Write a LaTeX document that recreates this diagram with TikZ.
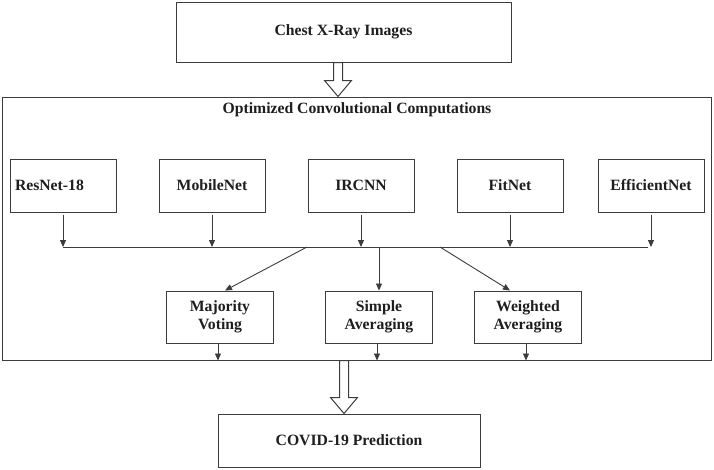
\documentclass[tikz,border=0pt]{standalone}
\usepackage{fontspec}
\setmainfont{Liberation Serif}
\usetikzlibrary{calc,positioning,arrows.meta}
\definecolor{edgegray}{HTML}{3C3C3C}
\definecolor{textgray}{HTML}{1E1E1E}

\begin{document}
\begin{tikzpicture}[x=1pt,y=-1pt,
  every node/.style={align=center,text=textgray,font=\fontsize{15.7}{18.5}\selectfont\bfseries},
  blk/.style={draw=edgegray,line width=1pt,inner sep=0pt,minimum width=106pt,minimum height=53pt},
  flow/.style={draw=edgegray,line width=0.9pt,-{Triangle[width=6pt,length=7pt]}},
  hollow/.style={draw=edgegray,line width=1pt,fill=white}]
\useasboundingbox (0,0) rectangle (714,469);
% input and outer frame
\node [blk,minimum width=335pt,minimum height=60pt] (XRay) at (343.5,32) {Chest X-Ray Images};
\node [blk,minimum width=709pt,minimum height=263pt] (Frame) at (356.5,228.5) {};
\node (FrameTitle) at (357,110) {Optimized Convolutional Computations};
% base networks
\node [blk,text width=96pt,inner xsep=5pt,align=left] (ResNet) at (63,185.5) {ResNet-18};
\node [blk] (MobileNet) at (212,185.5) {MobileNet};
\node [blk] (IRCNN) at (361,185.5) {IRCNN};
\node [blk] (FitNet) at (510,185.5) {FitNet};
\node [blk] (EfficientNet) at (651,185.5) {EfficientNet};
% ensemble schemes
\node [blk,minimum width=107pt,minimum height=52pt] (Majority) at (220,317) {Majority\\Voting};
\node [blk,minimum width=107pt,minimum height=52pt] (Simple) at (379,317) {Simple\\Averaging};
\node [blk,minimum width=107pt,minimum height=52pt] (Weighted) at (528,317) {Weighted\\Averaging};
% output
\node [blk,minimum width=262pt] (Covid) at (349,440.5) {COVID-19 Prediction};
% bus
\coordinate (BusL) at (63,247);
\coordinate (BusR) at (648,247);
\coordinate (BusA) at (307,247);
\coordinate (BusB) at (379,247);
\coordinate (BusC) at (440,247);
\draw [edgegray,line width=0.9pt] (BusL) -- (BusR);
\foreach \n in {ResNet,MobileNet,IRCNN,FitNet,EfficientNet}
  \draw [flow,shorten <=2pt] (\n.south) -- (\n.south |- BusL);
\draw [flow] (BusA) -- ($(Majority.north)+(5,0)$);
\draw [flow] (BusB) -- (Simple.north);
\draw [flow] (BusC) -- ($(Weighted.north)+(-18,0)$);
\foreach \n in {Majority,Simple,Weighted}
  \draw [flow] ($(\n.south)+(-2,0)$) -- ($(\n.south |- Frame.south)+(-2,0)$);
% hollow arrows
\draw [hollow] ($(XRay.south)+(-10,0)$) -- ++(0,18) -- ++(-9,0) -- ($(XRay.south |- Frame.north)+(-5.5,0)$)
  -- ($(XRay.south)+(-5.5,18)+(13.5,0)$) -- ++(-9,0) -- ++(0,-18) -- cycle;
\draw [hollow] ($(Frame.south)+(-17,0)$) -- ++(0,37) -- ++(-9,0) -- ($(Covid.north)+(-5,0)$)
  -- ($(Frame.south)+(-12.5,37)+(13.5,0)$) -- ++(-9,0) -- ++(0,-37) -- cycle;
\end{tikzpicture}
\end{document}
